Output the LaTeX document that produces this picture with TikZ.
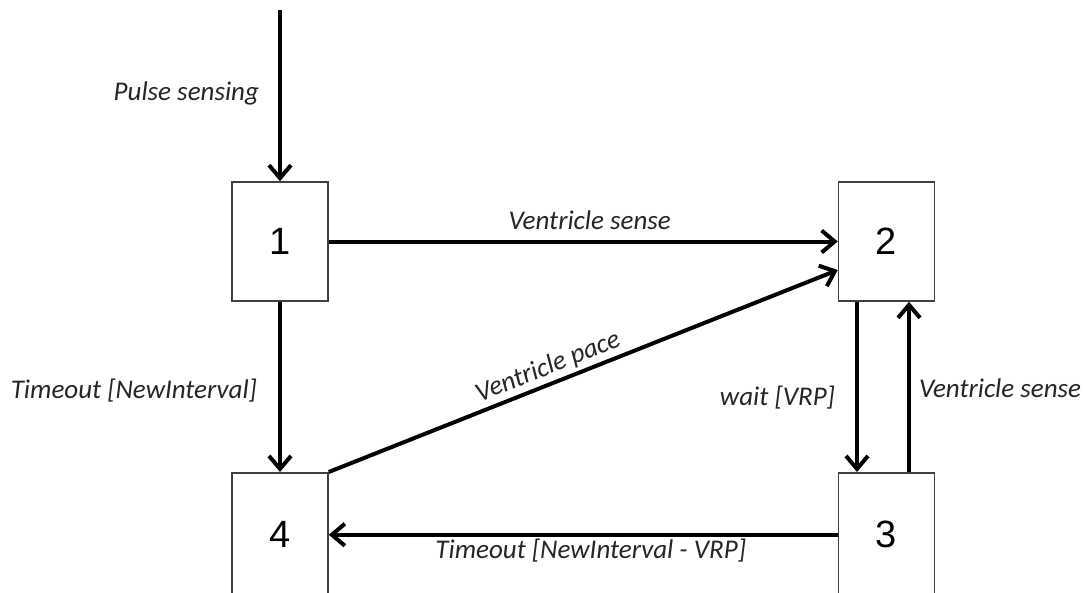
\documentclass[tikz,border=0pt]{standalone}
\usepackage{fontspec}
\setmainfont{Carlito}
\newfontfamily\numfont{Liberation Sans}
\usetikzlibrary{arrows.meta}
\begin{document}
\begin{tikzpicture}[x=1pt,y=-1pt,
  statebox/.style={draw=black!75, line width=1.5pt, fill=white, minimum width=96pt, minimum height=119pt, inner sep=0pt, font=\numfont\fontsize{38}{40}\selectfont},
  lowbox/.style={statebox, minimum height=124pt, anchor=north},
  arr/.style={line width=4pt, -{Straight Barb[length=13pt,width=22pt,line width=4pt]}},
  lbl/.style={font=\itshape\fontsize{27}{29}\selectfont, inner sep=0pt, text=black!85}]
\clip (0,0) rectangle (1083,592);
\useasboundingbox (0,0) rectangle (1083,592);
\fill[white] (0,0) rectangle (1083,592);

\node[statebox] (b1) at (280,241.5) {1};
\node[statebox] (b2) at (886.5,241.5) {2};
\node[lowbox] (b4) at (280,472) {4};
\node[lowbox] (b3) at (886.5,472) {3};
\coordinate (top) at (280,10);

\draw[arr] (top) -- (b1.north)
  node[lbl, pos=0.5, anchor=base east, xshift=-19pt, yshift=-5pt] {Pulse sensing};
\draw[arr] (b1.east) -- (b1.east -| b2.west)
  node[lbl, pos=0.5, anchor=base, xshift=6.5pt, yshift=12.5pt] {Ventricle sense};
\draw[arr] (b4.north east) -- ([yshift=-28.5pt]b2.west)
  node[lbl, pos=0.443, sloped, above=3pt] {Ventricle pace};
\draw[arr] (b1.south) -- (b4.north)
  node[lbl, pos=0.5, anchor=base east, xshift=-21pt, yshift=-11.5pt] {Timeout [NewInterval]};
\draw[arr] ([xshift=-29.5pt]b2.south) -- ([xshift=-29.5pt]b3.north)
  node[lbl, pos=0.5, anchor=base east, xshift=-20pt, yshift=-18.5pt] {wait [VRP]};
\draw[arr] ([xshift=22.5pt]b3.north) -- ([xshift=22.5pt]b2.south)
  node[lbl, pos=0.5, anchor=base west, xshift=8pt, yshift=-10.5pt] {Ventricle sense};
\draw[arr] (b3.west) -- (b4.east)
  node[lbl, pos=0.5, anchor=base, xshift=7.5pt, yshift=-24pt] {Timeout [NewInterval - VRP]};
\end{tikzpicture}
\end{document}
